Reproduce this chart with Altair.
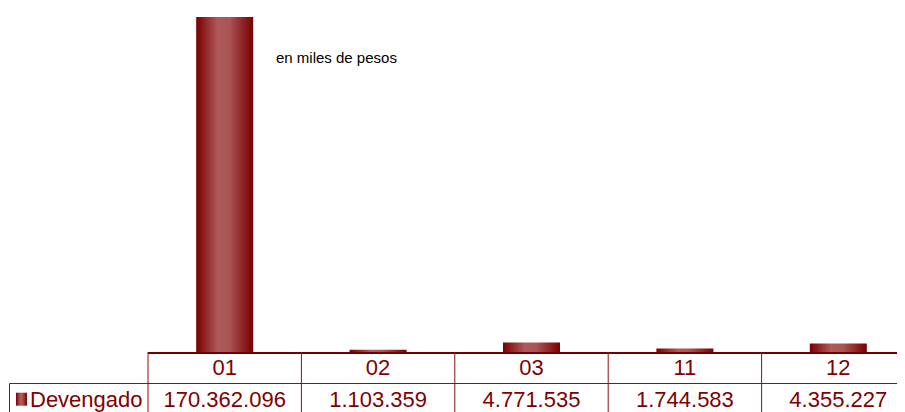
import altair as alt
import pandas as pd

categories = ["01", "02", "03", "11", "12"]
devengado = [170362096, 1103359, 4771535, 1744583, 4355227]
series_name = "Devengado"
note = "en miles de pesos"

labels = [f"{v:,}".replace(",", ".") for v in devengado]
df = pd.DataFrame({"cat": categories, "val": devengado, "label": labels})
one = pd.DataFrame({"k": [0]})

W, H = 767, 344
DARK = "#800000"
LINE = "#8b1010"
FONT = "Liberation Sans"

grad = alt.Gradient(
    gradient="linear",
    stops=[
        alt.GradientStop(color="#760000", offset=0),
        alt.GradientStop(color="#b0595b", offset=0.38),
        alt.GradientStop(color="#aa5456", offset=0.58),
        alt.GradientStop(color="#780000", offset=1),
    ],
    x1=0, x2=1, y1=0, y2=0,
)

xscale = alt.Scale(paddingInner=0, paddingOuter=0)
x = alt.X("cat:N", sort=categories, scale=xscale, axis=None)

bars = alt.Chart(df).mark_bar(size=57, color=grad).encode(
    x=x,
    y=alt.Y("val:Q", scale=alt.Scale(domain=[0, 175000000], nice=False), axis=None),
)

cat_text = alt.Chart(df).mark_text(fontSize=22, color=DARK, font=FONT, baseline="middle").encode(
    x=x, y=alt.value(360), text="cat:N"
)
val_text = alt.Chart(df).mark_text(fontSize=22, color=DARK, font=FONT, baseline="middle").encode(
    x=x, y=alt.value(392), text="label:N"
)

vrules = alt.Chart(df).mark_rule(color=LINE, strokeWidth=1).encode(
    x=alt.X("cat:N", sort=categories, scale=xscale, axis=None, bandPosition=0),
    y=alt.value(H), y2=alt.value(404),
)

hline = alt.Chart(one).mark_rule(color=LINE, strokeWidth=1).encode(
    x=alt.value(-138.5), x2=alt.value(W), y=alt.value(375.5)
)
left_border = alt.Chart(one).mark_rule(color=LINE, strokeWidth=1).encode(
    x=alt.value(-138.5), y=alt.value(375.5), y2=alt.value(404)
)
axis_line = alt.Chart(one).mark_rule(color="#6e0000", strokeWidth=2).encode(
    x=alt.value(0), x2=alt.value(W), y=alt.value(H + 1)
)

swatch = alt.Chart(one).mark_rect(color=grad).encode(
    x=alt.value(-132), x2=alt.value(-121), y=alt.value(384.7), y2=alt.value(397.7)
)
legend_text = alt.Chart(one).mark_text(
    fontSize=22, color=DARK, font=FONT, align="left", baseline="middle"
).encode(x=alt.value(-118), y=alt.value(392), text=alt.value(series_name))

note_text = alt.Chart(one).mark_text(
    fontSize=15, color="#000000", font=FONT, align="left", baseline="middle"
).encode(x=alt.value(128), y=alt.value(50), text=alt.value(note))

chart = alt.layer(
    bars, axis_line, vrules, hline, left_border, cat_text, val_text, swatch, legend_text, note_text
).properties(
    width=W, height=H,
    padding={"left": 140, "top": 0, "right": -18, "bottom": 60},
    autosize=alt.AutoSizeParams(type="none"),
).configure_view(stroke=None)

chart.save("out.html", embed_options={"renderer": "svg", "actions": False})
